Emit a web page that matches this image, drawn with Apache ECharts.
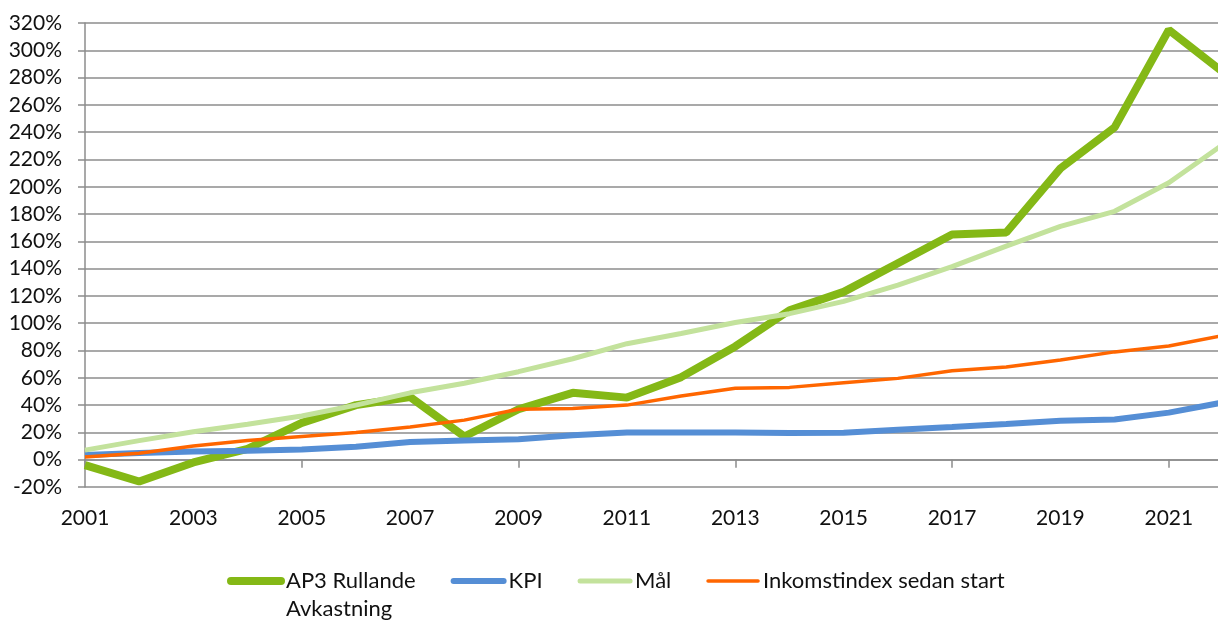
<!DOCTYPE html>
<html>
<head>
<meta charset="utf-8">
<script src="https://cdn.jsdelivr.net/npm/echarts@6/dist/echarts.min.js"></script>
<style>
  html, body { margin: 0; padding: 0; background: #fff; }
  #chart { width: 1218px; height: 622px; }
</style>
</head>
<body>
<div id="chart"></div>
<script>
// data
var years = ["2001","2002","2003","2004","2005","2006","2007","2008","2009","2010","2011",
             "2012","2013","2014","2015","2016","2017","2018","2019","2020","2021","2022"];
var ap3 = [-4, -16, -2, 8, 27, 40, 46, 17, 37, 49, 45.5, 60.5, 83, 109.5, 123, 144, 165, 166.5, 213.5, 243.5, 315, 284];
var kpi = [3.5, 5, 6, 6.5, 7.5, 9.5, 13, 14, 15, 18, 20, 20, 20, 19.5, 19.8, 22, 24, 26.2, 28.6, 29.5, 34.5, 42];
var mal = [7, 14, 20.5, 26, 32, 40, 49, 56, 64.5, 74, 85, 92.5, 100.5, 107, 116, 128, 141.5, 156.5, 171, 182, 203, 231];
var inkomst = [2, 4.7, 10, 14, 17, 20, 24, 29, 37, 37.6, 40, 46.7, 52.3, 53, 56.4, 59.6, 65.2, 68, 73, 79, 83.3, 91];

var names = ["AP3 Rullande\nAvkastning", "KPI", "Mål", "Inkomstindex sedan start"];
var colors = ["#84b816", "#558ed5", "#c3e29c", "#ff6600"];
var widths = [8, 6, 5, 3.5];

var font = "Lato";
var gridColor = "#8c8c8c";
var chart = echarts.init(document.getElementById("chart"));

function line(i, data) {
  return {
    name: names[i],
    type: "line",
    data: data,
    symbol: "none",
    color: colors[i],
    lineStyle: { width: widths[i], color: colors[i] },
    emphasis: { disabled: true }
  };
}

var option = {
  animation: false,
  grid: { left: 85, right: -5, top: 23, bottom: 135, outerBoundsMode: "none" },
  xAxis: {
    type: "category",
    data: years,
    boundaryGap: false,
    axisLine: { show: true, lineStyle: { color: gridColor, width: 1.5 } },
    axisTick: { show: true, interval: 3, length: 8, lineStyle: { color: gridColor, width: 1.5 } },
    axisLabel: { interval: 1, margin: 21, color: "#111", fontFamily: font, fontSize: 21 },
    splitLine: { show: false }
  },
  yAxis: {
    type: "value",
    min: -20,
    max: 320,
    interval: 20,
    axisLine: { show: true, lineStyle: { color: gridColor, width: 1.5 } },
    axisTick: { show: true, length: 7, lineStyle: { color: gridColor, width: 1.5 } },
    axisLabel: { formatter: "{value}%", margin: 23, color: "#111", fontFamily: font, fontSize: 21 },
    splitLine: { show: true, lineStyle: { color: gridColor, width: 1.5 } }
  },
  legend: {
    left: 222,
    top: 534,
    itemWidth: 50,
    itemHeight: 14,
    itemGap: 35,
    textStyle: { color: "#111", fontFamily: font, fontSize: 22, lineHeight: 28 },
    // two-line name: keep the first line level with the icon
    formatter: function (name) {
      return name.indexOf("\n") >= 0 ? "\n" + name : name;
    },
    data: names.map(function (n, i) {
      return {
        name: n,
        itemStyle: { opacity: 0, color: "rgba(0,0,0,0)", borderWidth: 0 },
        lineStyle: { width: widths[i], color: colors[i], cap: "round" }
      };
    })
  },
  series: [line(0, ap3), line(1, kpi), line(2, mal), line(3, inkomst)]
};

chart.setOption(option);
</script>
</body>
</html>
